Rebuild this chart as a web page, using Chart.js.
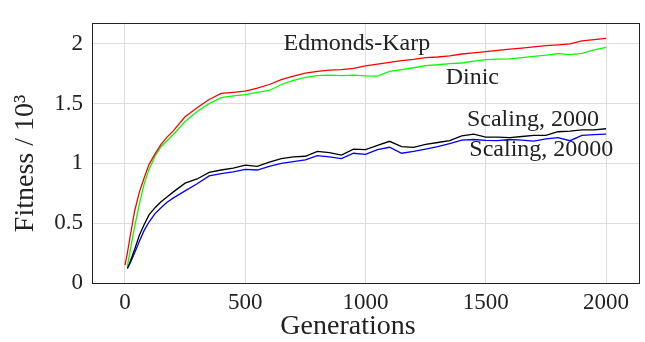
<!DOCTYPE html>
<html>
<head>
<meta charset="utf-8">
<script src="https://cdn.jsdelivr.net/npm/chart.js@4"></script>
<style>
  html, body { margin: 0; padding: 0; background: #fff; }
  #wrap { width: 645px; height: 342px; }
</style>
</head>
<body>
<div id="wrap"><canvas id="chart"></canvas></div>
<script>
const generations = [0, 10, 20, 40, 60, 80, 100, 125, 150, 175, 200, 250, 300, 350, 400, 450, 500, 550, 600, 650,
  700, 750, 800, 850, 900, 950, 1000, 1050, 1100, 1150, 1200, 1250, 1300, 1350, 1400, 1450, 1500, 1550,
  1600, 1650, 1700, 1750, 1800, 1850, 1900, 1950, 2000];

const edmondsKarp = [0.15, 0.25, 0.37, 0.60, 0.76, 0.88, 0.99, 1.08, 1.16, 1.22, 1.27, 1.39, 1.465, 1.535, 1.585,
  1.595, 1.605, 1.63, 1.66, 1.70, 1.73, 1.755, 1.77, 1.78, 1.785, 1.795, 1.815, 1.83, 1.845, 1.86, 1.87,
  1.884, 1.89, 1.90, 1.915, 1.925, 1.935, 1.945, 1.955, 1.964, 1.975, 1.985, 1.992, 2.0, 2.025, 2.035, 2.045];

const dinic = [null, 0.14, 0.25, 0.47, 0.66, 0.83, 0.95, 1.06, 1.14, 1.19, 1.24, 1.35, 1.435, 1.50, 1.55,
  1.565, 1.575, 1.595, 1.61, 1.66, 1.695, 1.72, 1.735, 1.738, 1.735, 1.738, 1.732, 1.73, 1.77, 1.785, 1.80,
  1.818, 1.825, 1.835, 1.84, 1.855, 1.868, 1.872, 1.875, 1.884, 1.895, 1.905, 1.918, 1.91, 1.92, 1.95, 1.97];

const scaling2000 = [null, 0.13, 0.17, 0.28, 0.40, 0.49, 0.57, 0.63, 0.68, 0.72, 0.76, 0.835, 0.87, 0.925, 0.945,
  0.96, 0.985, 0.975, 1.01, 1.04, 1.055, 1.06, 1.10, 1.09, 1.07, 1.12, 1.115, 1.15, 1.185, 1.14, 1.135,
  1.16, 1.175, 1.19, 1.23, 1.245, 1.22, 1.22, 1.215, 1.225, 1.235, 1.235, 1.265, 1.27, 1.28, 1.28, 1.29];

const scaling20000 = [null, 0.12, 0.16, 0.25, 0.35, 0.44, 0.51, 0.58, 0.63, 0.675, 0.71, 0.77, 0.83, 0.895, 0.915,
  0.93, 0.95, 0.945, 0.975, 1.0, 1.015, 1.03, 1.065, 1.055, 1.04, 1.085, 1.075, 1.115, 1.135, 1.085, 1.10,
  1.12, 1.14, 1.165, 1.195, 1.20, 1.192, 1.19, 1.20, 1.195, 1.187, 1.205, 1.215, 1.19, 1.235, 1.24, 1.245];

const xTicks = [0, 500, 1000, 1500, 2000];
const yTicks = [0, 0.5, 1, 1.5, 2];

const seriesNames = ['Edmonds-Karp', 'Dinic', 'Scaling, 2000', 'Scaling, 20000'];
const seriesColors = ['#ff0000', '#00ff00', '#000000', '#0000ff'];

// text labels next to the curves, in data coordinates (centre x, baseline y)
const curveLabels = [
  { text: seriesNames[0], x: 964, y: 1.946 },
  { text: seriesNames[1], x: 1444, y: 1.661 },
  { text: seriesNames[2], x: 1696, y: 1.315 },
  { text: seriesNames[3], x: 1731, y: 1.061 }
];

const FONT = '"Liberation Serif", "DejaVu Serif", serif';
const NB = '\u00a0';

const toPoints = vals => generations.map((g, i) => ({ x: g, y: vals[i] })).filter(p => p.y !== null);

const frameAndLabels = {
  id: 'frameAndLabels',
  afterDatasetsDraw(chart) {
    const { ctx, chartArea: a, scales: { x, y } } = chart;
    ctx.save();
    ctx.strokeStyle = '#222';
    ctx.lineWidth = 1;
    ctx.strokeRect(Math.round(a.left) + 0.5, Math.round(a.top) + 0.5,
      Math.round(a.right - a.left), Math.round(a.bottom - a.top));
    ctx.fillStyle = '#222';
    ctx.font = '24px ' + FONT;
    ctx.textAlign = 'center';
    ctx.textBaseline = 'alphabetic';
    curveLabels.forEach(l => ctx.fillText(l.text, x.getPixelForValue(l.x), y.getPixelForValue(l.y)));
    ctx.restore();
  }
};

new Chart(document.getElementById('chart'), {
  type: 'line',
  data: {
    datasets: [edmondsKarp, dinic, scaling2000, scaling20000].map((vals, i) => ({
      label: seriesNames[i],
      data: toPoints(vals),
      borderColor: seriesColors[i],
      borderWidth: 1.3,
      pointRadius: 0,
      tension: 0,
      fill: false
    }))
  },
  options: {
    responsive: true,
    maintainAspectRatio: false,
    animation: false,
    layout: { padding: { top: 10, right: 6, left: 0, bottom: 0 } },
    plugins: { legend: { display: false }, tooltip: { enabled: false } },
    scales: {
      x: {
        type: 'linear',
        min: -137,
        max: 2137,
        afterBuildTicks: s => { s.ticks = xTicks.map(v => ({ value: v })); },
        afterFit: s => { s.height = 59; },
        grid: { color: '#dddddd', drawTicks: false },
        border: { display: false },
        ticks: { color: '#222', font: { family: FONT, size: 23 }, padding: 6, maxRotation: 0,
          callback: v => String(v) },
        // trailing spaces nudge the title left, as in the original
        title: { display: true, text: 'Generations' + NB.repeat(5), color: '#222',
          font: { family: FONT, size: 28 }, padding: { top: 0, bottom: -1 } }
      },
      y: {
        min: 0,
        max: 2.176,
        afterBuildTicks: s => { s.ticks = yTicks.map(v => ({ value: v })); },
        afterFit: s => { s.width = 92; },
        grid: { color: '#dddddd', drawTicks: false },
        border: { display: false },
        ticks: { color: '#222', font: { family: FONT, size: 23 }, padding: 9,
          callback: v => String(v) },
        title: { display: true, text: 'Fitness / 10³' + NB.repeat(3), color: '#222',
          font: { family: FONT, size: 28 }, padding: { top: 9, bottom: 0 } }
      }
    }
  },
  plugins: [frameAndLabels]
});
</script>
</body>
</html>
